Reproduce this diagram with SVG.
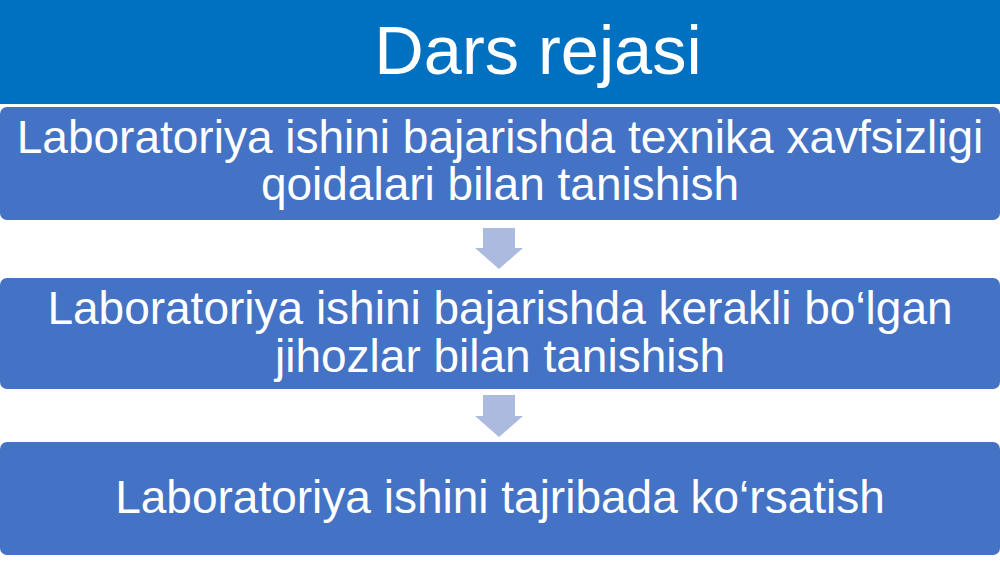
<svg xmlns="http://www.w3.org/2000/svg" width="1000" height="562" viewBox="0 0 1000 562">
<style>
.box{fill:#4472C4}
.arrow{fill:#ADBADF}
.t{font-family:"Liberation Sans",Arial,sans-serif;fill:#fff;text-anchor:middle;font-size:46px}
.title{font-family:"Liberation Sans",Arial,sans-serif;fill:#fff;text-anchor:middle;font-size:68.5px}
</style>
<rect x="0" y="0" width="1000" height="562" fill="#fff"/>
<g id="header">
<rect x="0" y="0" width="1000" height="104" fill="#0070C0"/>
<text class="title" x="538" y="74">Dars rejasi</text>
</g>
<g id="connectors">
<polygon class="arrow" points="483,228 515,228 515,248 523,248 499,269 475,248 483,248"/>
<polygon class="arrow" points="483,395 515,395 515,416 523,416 499,437 475,416 483,416"/>
</g>
<g id="node1">
<rect class="box" x="0" y="107" width="1000" height="113" rx="7"/>
<text class="t" x="500" y="153">Laboratoriya ishini bajarishda texnika xavfsizligi</text>
<text class="t" x="500" y="200">qoidalari bilan tanishish</text>
</g>
<g id="node2">
<rect class="box" x="0" y="278" width="1000" height="111" rx="7"/>
<text class="t" x="500" y="324">Laboratoriya ishini bajarishda kerakli bo‘lgan</text>
<text class="t" x="500" y="372">jihozlar bilan tanishish</text>
</g>
<g id="node3">
<rect class="box" x="0" y="442" width="1000" height="113" rx="7"/>
<text class="t" x="500" y="513">Laboratoriya ishini tajribada ko‘rsatish</text>
</g>
</svg>
